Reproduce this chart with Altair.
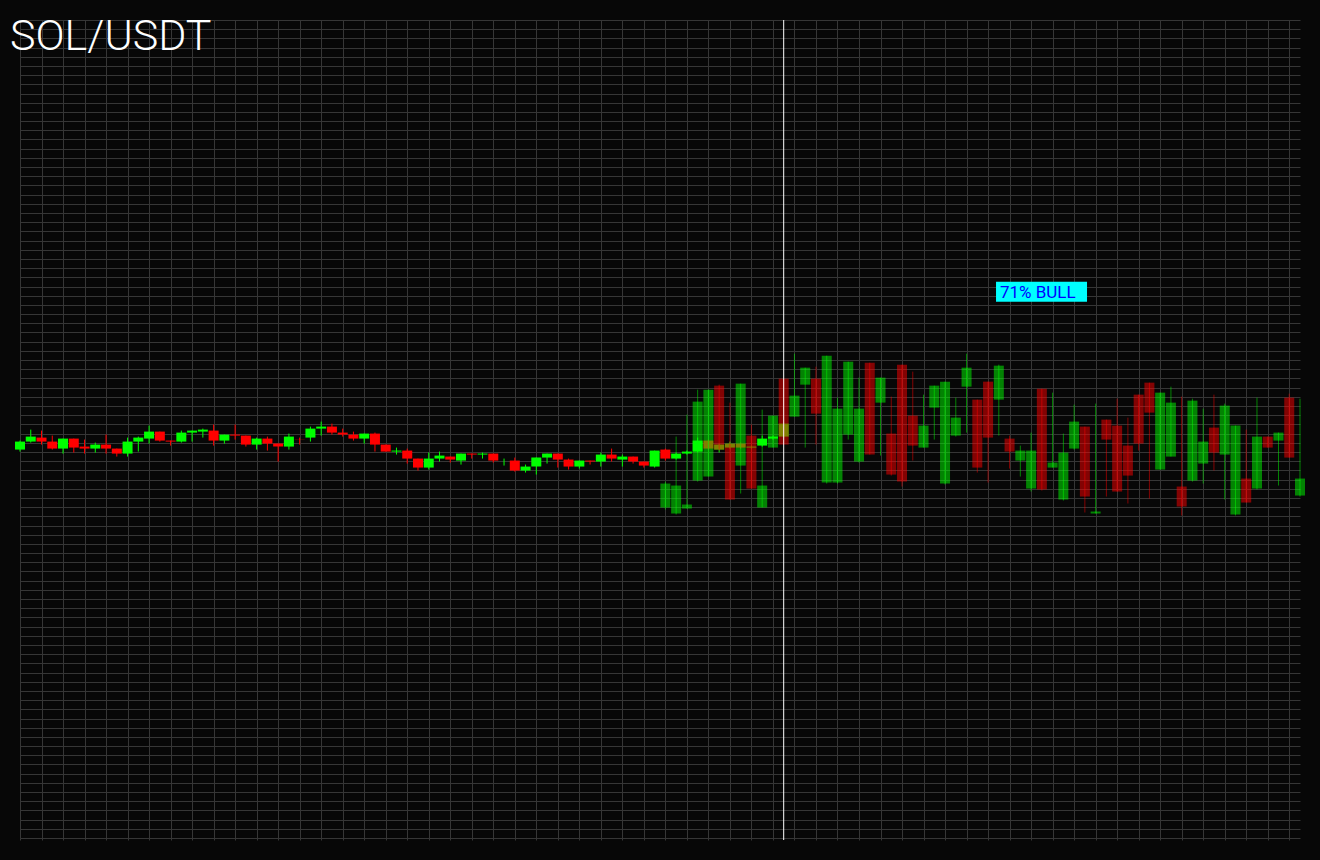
import altair as alt
import pandas as pd
import numpy as np

symbol = "SOL/USDT"
bull_label = "71% BULL"

# historical candles (index 0..71)
hist_open = [149.5, 149.9, 150.1, 149.9, 149.55, 150.05, 149.65, 149.55, 149.75, 149.55,
             149.3, 149.9, 150.05, 150.4, 149.95, 149.9, 150.35, 150.4, 150.45, 149.95,
             150.25, 150.2, 149.75, 150.05, 149.8, 149.65, 150.0, 150.1, 150.55, 150.65,
             150.35, 150.25, 150.05, 150.3, 149.75, 149.4, 149.45, 149.05, 148.6, 149.05,
             149.15, 148.95, 149.3, 149.25, 149.3, 148.85, 148.95, 148.45, 148.65, 149.1,
             149.3, 149.0, 148.65, 148.95, 148.9, 149.25, 149.0, 149.15, 148.9, 148.65,
             149.5, 149.05, 149.3, 149.4, 149.95, 149.5, 149.6, 149.8, 149.6, 149.7,
             150.05, 150.15]
hist_close = [149.9, 150.15, 149.9, 149.55, 150.05, 149.6, 149.55, 149.75, 149.55, 149.3,
              149.9, 150.1, 150.4, 149.95, 149.9, 150.35, 150.45, 150.5, 149.95, 150.25,
              150.2, 149.75, 150.05, 149.8, 149.65, 150.15, 149.99, 150.55, 150.65, 150.35,
              150.25, 150.05, 150.3, 149.75, 149.4, 149.45, 149.05, 148.6, 149.05, 149.2,
              149.0, 149.3, 149.25, 149.3, 148.95, 148.85, 148.45, 148.65, 149.1, 149.3,
              149.0, 148.65, 148.95, 148.9, 149.25, 149.05, 149.15, 148.9, 148.7, 149.45,
              149.05, 149.3, 149.4, 149.95, 149.55, 149.75, 149.8, 149.6, 149.65, 150.05,
              150.15, 150.8]
hist_high = [149.95, 150.5, 150.45, 150.2, 150.05, 150.05, 150.0, 149.85, 150.25, 149.55,
             150.1, 150.15, 150.7, 150.4, 149.95, 150.45, 150.45, 150.55, 150.75, 150.25,
             150.75, 150.2, 150.1, 150.15, 149.8, 150.3, 150.1, 150.65, 150.9, 150.8,
             150.55, 150.4, 150.3, 150.35, 149.75, 149.6, 149.55, 149.05, 149.35, 149.4,
             149.15, 149.3, 149.3, 149.35, 149.3, 149.05, 149.1, 148.75, 149.1, 149.3,
             149.3, 149.05, 148.95, 148.95, 149.35, 149.55, 149.25, 149.15, 148.9, 149.45,
             149.55, 149.35, 149.45, 150.1, 150.0, 149.8, 149.9, 149.85, 149.7, 150.2,
             150.2, 150.85]
hist_low = [149.4, 149.85, 149.75, 149.5, 149.3, 149.35, 149.3, 149.35, 149.3, 149.15,
            149.15, 149.4, 149.8, 149.9, 149.7, 149.85, 149.9, 150.1, 149.7, 149.8,
            150.0, 149.65, 149.5, 149.45, 148.9, 149.5, 149.75, 149.9, 150.2, 150.25,
            150.15, 149.95, 149.8, 149.4, 149.4, 149.25, 148.8, 148.45, 148.5, 148.9,
            148.85, 148.75, 149.05, 149.05, 148.85, 148.7, 148.4, 148.35, 148.25, 148.8,
            148.6, 148.5, 148.55, 148.75, 148.65, 148.9, 148.65, 148.8, 148.6, 148.6,
            148.95, 149.0, 149.25, 149.35, 149.5, 149.35, 149.55, 149.55, 149.55, 149.65,
            150.0, 150.1]

# predicted candles (index 60..119)
pred_start = 60
pred_open = [146.6, 146.3, 146.55, 147.95, 148.15, 152.7, 149.8, 148.7, 150.2, 146.6,
             149.6, 153.05, 151.15, 152.75, 153.05, 147.85, 147.85, 150.25, 148.9, 153.85,
             151.85, 150.3, 153.75, 151.2, 149.6, 151.6, 147.8, 150.2, 152.65, 152.0,
             152.9, 152.0, 150.05, 148.95, 147.55, 152.55, 148.6, 147.0, 149.55, 150.65,
             146.3, 151.0, 150.7, 149.7, 152.25, 152.85, 148.5, 149.15, 147.65, 147.95,
             148.8, 150.6, 149.25, 146.25, 148.05, 147.55, 150.15, 149.95, 152.1, 147.2]
pred_close = [147.8, 147.7, 146.75, 151.9, 152.5, 149.5, 147.0, 152.8, 147.55, 147.7,
              151.2, 149.75, 152.2, 153.6, 151.3, 154.2, 151.55, 153.9, 151.55, 149.25,
              153.1, 148.25, 147.9, 149.7, 150.7, 152.7, 152.9, 151.1, 153.6, 148.6,
              150.1, 153.7, 149.4, 149.45, 149.45, 147.5, 148.85, 149.35, 150.9, 147.15,
              146.4, 150.0, 147.4, 148.2, 149.8, 151.35, 152.35, 151.85, 146.65, 151.95,
              149.9, 149.35, 151.7, 150.7, 146.85, 150.15, 149.6, 150.35, 149.1, 148.05]
pred_high = [147.9, 150.15, 151.25, 152.5, 152.5, 152.75, 151.85, 152.8, 150.75, 151.5,
             151.2, 153.05, 154.3, 153.6, 153.65, 154.2, 152.1, 153.9, 153.1, 153.85,
             153.1, 152.15, 153.75, 153.4, 152.25, 152.7, 152.9, 152.1, 154.3, 152.0,
             152.9, 153.75, 150.2, 149.7, 150.35, 152.55, 152.35, 150.3, 151.75, 150.65,
             151.8, 151.0, 152.05, 151.1, 152.25, 152.85, 152.35, 152.65, 152.15, 152.05,
             151.55, 152.25, 151.8, 150.7, 150.5, 152.1, 150.15, 150.35, 152.3, 152.05]
pred_low = [146.5, 146.25, 146.55, 147.9, 148.15, 149.45, 147.0, 147.3, 147.55, 146.6,
            149.6, 149.75, 151.15, 149.6, 149.75, 147.8, 147.8, 150.0, 148.85, 149.25,
            149.2, 148.2, 147.65, 148.95, 149.6, 150.0, 147.75, 150.15, 150.35, 148.35,
            147.85, 150.2, 148.55, 148.15, 147.4, 147.45, 148.6, 146.95, 149.5, 146.35,
            146.3, 147.15, 147.4, 146.8, 149.45, 147.05, 148.5, 149.15, 146.2, 147.9,
            147.8, 148.45, 147.0, 146.2, 146.85, 147.5, 149.6, 147.7, 149.1, 147.15]

now_index = 71
label_box = {"x": 90.74, "x2": 99.2, "y": 157.9, "y2": 156.9}
label_pos = {"x": 91.1, "y": 157.1}

hist = pd.DataFrame({"i": np.arange(len(hist_open)), "open": hist_open, "high": hist_high,
                     "low": hist_low, "close": hist_close})
hist["dir"] = np.where(hist["close"] >= hist["open"], "up", "down")
pred = pd.DataFrame({"i": np.arange(pred_start, pred_start + len(pred_open)), "open": pred_open,
                     "high": pred_high, "low": pred_low, "close": pred_close})
pred["dir"] = np.where(pred["close"] >= pred["open"], "up", "down")

y_lo, y_step, n_grid = 130.06, 0.46, 90
y_hi = round(y_lo + y_step * (n_grid - 1), 2)
y_ticks = [round(y_lo + y_step * k, 2) for k in range(n_grid)]

grid_c = "#363636"
x_scale = alt.Scale(domain=[0, 119], nice=False, zero=False, padding=0)
y_scale = alt.Scale(domain=[y_lo, y_hi], nice=False, zero=False, padding=0)
color = alt.Color("dir:N", scale=alt.Scale(domain=["up", "down"], range=["#00ff00", "#ff0000"]),
                  legend=None)

x_axis = alt.Axis(values=list(range(0, 120, 2)), grid=True, gridColor=grid_c, gridWidth=1,
                  labels=False, ticks=True, tickSize=2, tickColor=grid_c, domain=False, title=None)
y_axis = alt.Axis(values=y_ticks, grid=True, gridColor=grid_c, gridWidth=1, labels=False,
                  ticks=False, domain=False, title=None)


def X(field="i:Q"):
    return alt.X(field, scale=x_scale, axis=x_axis)


def Y(field):
    return alt.Y(field, scale=y_scale, axis=y_axis)


hist_wick = alt.Chart(hist).mark_rule(strokeWidth=1).encode(
    x=X(), y=Y("low:Q"), y2="high:Q", color=color)
hist_body = alt.Chart(hist).mark_bar(size=10, opacity=1).encode(
    x=X(), y=Y("open:Q"), y2="close:Q", color=color)
pred_body = alt.Chart(pred).mark_bar(size=10, opacity=0.5).encode(
    x=X(), y=Y("open:Q"), y2="close:Q", color=color)
pred_wick = alt.Chart(pred).mark_rule(strokeWidth=1, opacity=0.5).encode(
    x=X(), y=Y("low:Q"), y2="high:Q", color=color)

now_line = alt.Chart(pd.DataFrame({"i": [now_index]})).mark_rule(
    color="white", strokeWidth=1).encode(x=X(), y=alt.value(0), y2=alt.value(820))

box = alt.Chart(pd.DataFrame([label_box])).mark_rect(color="#00ffff").encode(
    x=X("x:Q"), x2="x2:Q", y=Y("y:Q"), y2="y2:Q")
label = alt.Chart(pd.DataFrame([{**label_pos, "t": bull_label}])).mark_text(
    align="left", baseline="alphabetic", fontSize=17, font="Roboto", color="#0000ff").encode(
    x=X("x:Q"), y=Y("y:Q"), text="t:N")

title = alt.Chart(pd.DataFrame({"t": [symbol]})).mark_text(
    align="left", baseline="alphabetic", fontSize=43, font="Roboto", fontWeight=300,
    color="white").encode(x=alt.value(-10), y=alt.value(30), text="t:N")

chart = alt.layer(hist_wick, hist_body, pred_body, pred_wick, now_line, box, label, title).properties(
    width=1280, height=818, background="#070707",
    padding={"left": 20, "top": 20, "right": 20, "bottom": 22},
    autosize=alt.AutoSizeParams(type="none"),
).configure_view(stroke=None, fill="#070707")

chart.save("out.html", embed_options={"renderer": "svg", "actions": False})
